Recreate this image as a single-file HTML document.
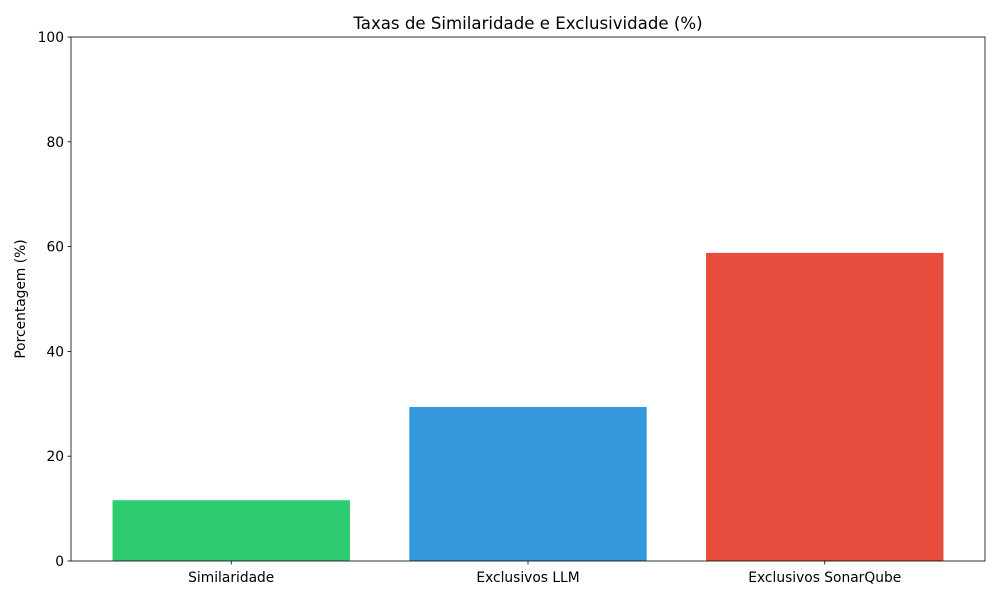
<!DOCTYPE html>
<html><head><meta charset="utf-8"><style>
body{margin:0;background:#fff;}
svg text{font-family:"DejaVu Sans","Liberation Sans",sans-serif;fill:#000;}
</style></head><body>
<svg id="chart" width="1000" height="600" xmlns="http://www.w3.org/2000/svg">
<rect width="1000" height="600" fill="#fff"/>
<text x="528" y="29" font-size="16.6" text-anchor="middle">Taxas de Similaridade e Exclusividade (%)</text>
<text transform="translate(25,299) rotate(-90)" font-size="13.8" text-anchor="middle">Porcentagem (%)</text>
<g id="bars"></g>
<g id="axes"></g>
</svg>
<script>
const categories = ["Similaridade", "Exclusivos LLM", "Exclusivos SonarQube"];
const values = [11.6, 29.4, 58.8];
const colors = ["#2ecc71", "#3498db", "#e74c3c"];
const yTicks = [0, 20, 40, 60, 80, 100];

const L=71,R=985,T=37,B=561;
const xmin=-0.54,xmax=2.54;
const xs=v=>L+(v-xmin)/(xmax-xmin)*(R-L);
const ys=v=>B-(v/100)*(B-T);
const NS="http://www.w3.org/2000/svg";
const bars=document.getElementById('bars'),axes=document.getElementById('axes');
function mk(tag,attrs,parent){const e=document.createElementNS(NS,tag);for(const k in attrs)e.setAttribute(k,attrs[k]);parent.appendChild(e);return e;}
categories.forEach((c,i)=>{
  const r=mk('rect',{x:xs(i-0.4),y:ys(values[i]),width:xs(i+0.4)-xs(i-0.4),height:B-ys(values[i]),fill:colors[i]},bars);
  
  
  mk('line',{x1:xs(i),x2:xs(i),y1:B,y2:B+3.5,stroke:'#000','stroke-width':0.8},axes);
  const t=mk('text',{x:xs(i),y:B+21,'font-size':13.8,'text-anchor':'middle'},axes);
  t.textContent=c;
  
  
});
yTicks.forEach(v=>{
  mk('line',{x1:L-3.5,x2:L,y1:ys(v),y2:ys(v),stroke:'#000','stroke-width':0.8},axes);
  const t=mk('text',{x:L-7,y:ys(v)+5,'font-size':13.8,'text-anchor':'end'},axes);
  t.textContent=v;
  
  
});
const f=mk('rect',{x:L,y:T,width:R-L,height:B-T,fill:'none',stroke:'#000','stroke-width':0.8},axes);


</script>
</body></html>
